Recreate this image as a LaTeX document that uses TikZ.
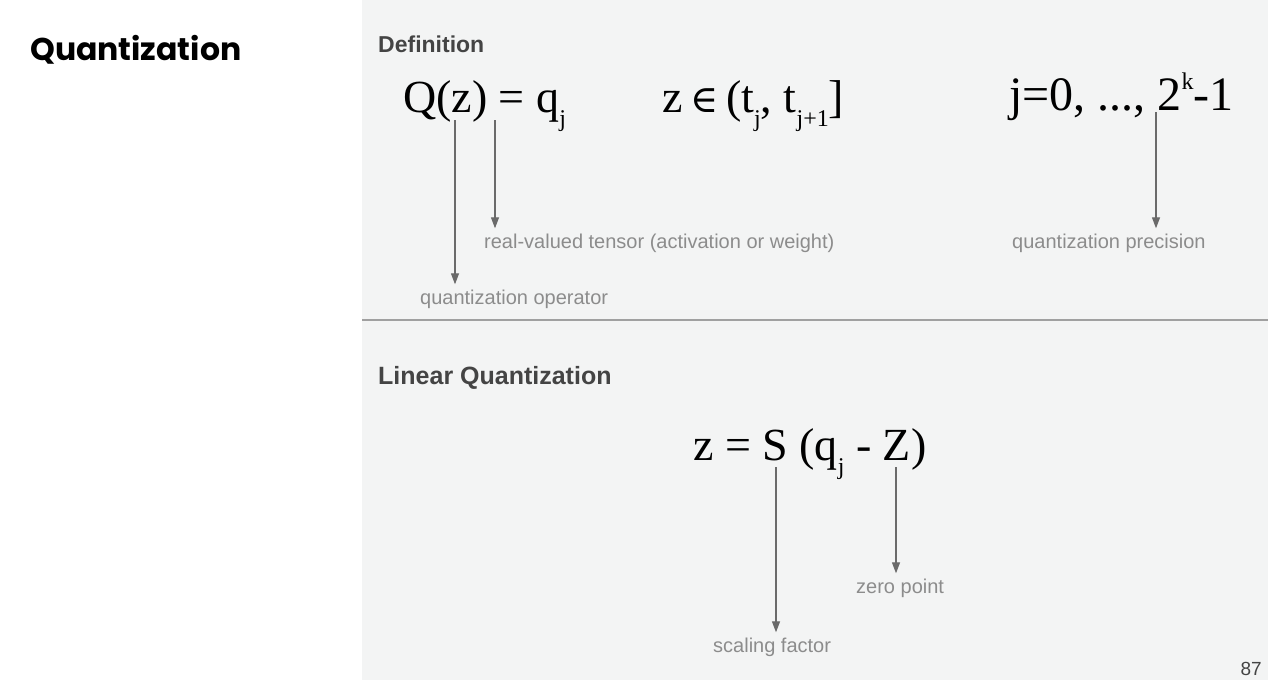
\documentclass[tikz,border=0pt]{standalone}
\usepackage{fontspec}
\setmainfont{Liberation Serif}
\setsansfont{Liberation Sans}
\newfontfamily\titlefont{Poppins}
\newfontfamily\symbolfont{DejaVu Serif}
\usetikzlibrary{arrows.meta}

\definecolor{panelgray}{HTML}{F3F4F4}
\definecolor{rulegray}{HTML}{A0A0A0}
\definecolor{headgray}{HTML}{444444}
\definecolor{notegray}{HTML}{8C8C8C}
\definecolor{arrowgray}{HTML}{6A6A6A}

% lowered and raised indices of the formulas
\newcommand{\lowidx}[1]{\raisebox{-14pt}{\fontsize{24}{24}\selectfont #1}}
\newcommand{\highidx}[1]{\raisebox{21pt}{\fontsize{24}{24}\selectfont #1}}

\begin{document}
\begin{tikzpicture}[x=1pt,y=1pt,
  head/.style={font=\sffamily\bfseries\fontsize{23}{27}\selectfont,text=headgray,anchor=base west,inner sep=0},
  formula/.style={font=\fontsize{46}{50}\selectfont,anchor=base west,inner sep=0},
  note/.style={font=\sffamily\fontsize{20}{24}\selectfont,text=notegray,anchor=base west,inner sep=0},
  pointer/.style={-{Triangle[width=8pt,length=11pt]},draw=arrowgray,fill=arrowgray,line width=1.2pt,shorten >=5pt}]

  \useasboundingbox (0,0) rectangle (1268,-680);
  \fill[panelgray] (362,0) rectangle (1268,-680);
  \draw[rulegray,line width=1.5pt] (362,-320) -- (1268,-320);

  \node[anchor=base west,inner sep=0,font=\titlefont\bfseries\fontsize{31.5}{36}\selectfont] (title) at (30,-60) {Quantization};
  \node[anchor=base east,inner sep=0,font=\sffamily\fontsize{19}{22}\selectfont,text=headgray] (page) at (1262,-675) {87};

  % definition
  \node[head] (def) at (378,-52) {Definition};
  \node[formula] (qz) at (403,-112) {Q(z) = q\lowidx{j}};
  \node[formula] (range) at (662,-112) {z\,{\symbolfont\fontsize{38}{40}\selectfont ∈}\,(t\lowidx{j}, t\lowidx{j+1}]};
  \node[formula,font=\fontsize{48}{52}\selectfont] (idx) at (1009,-110) {j=0, ..., 2\highidx{k}-1};

  \node[note] (opnote) at (420,-304) {quantization operator};
  \node[note] (tensornote) at (484,-248) {real-valued tensor (activation or weight)};
  \node[note] (precnote) at (1012,-248) {quantization precision};

  \coordinate (qop) at (455,-120);
  \coordinate (zin) at (495,-120);
  \coordinate (kbit) at (1156,-112);

  \draw[pointer] (qop) -- (qop |- opnote.north);
  \draw[pointer] (zin) -- (zin |- tensornote.north);
  \draw[pointer] (kbit) -- (kbit |- precnote.north);

  % linear quantization
  \node[head,font=\sffamily\bfseries\fontsize{25}{29}\selectfont] (lin) at (378,-384) {Linear Quantization};
  \node[formula] (affine) at (693,-460) {z = S (q\lowidx{j} - Z)};

  \node[note] (zeronote) at (856,-593) {zero point};
  \node[note] (scalenote) at (713,-652) {scaling factor};

  \coordinate (scale) at (776,-467);
  \coordinate (zero) at (896,-467);

  \draw[pointer] (scale) -- (scale |- scalenote.north);
  \draw[pointer] (zero) -- (zero |- zeronote.north);
\end{tikzpicture}
\end{document}
